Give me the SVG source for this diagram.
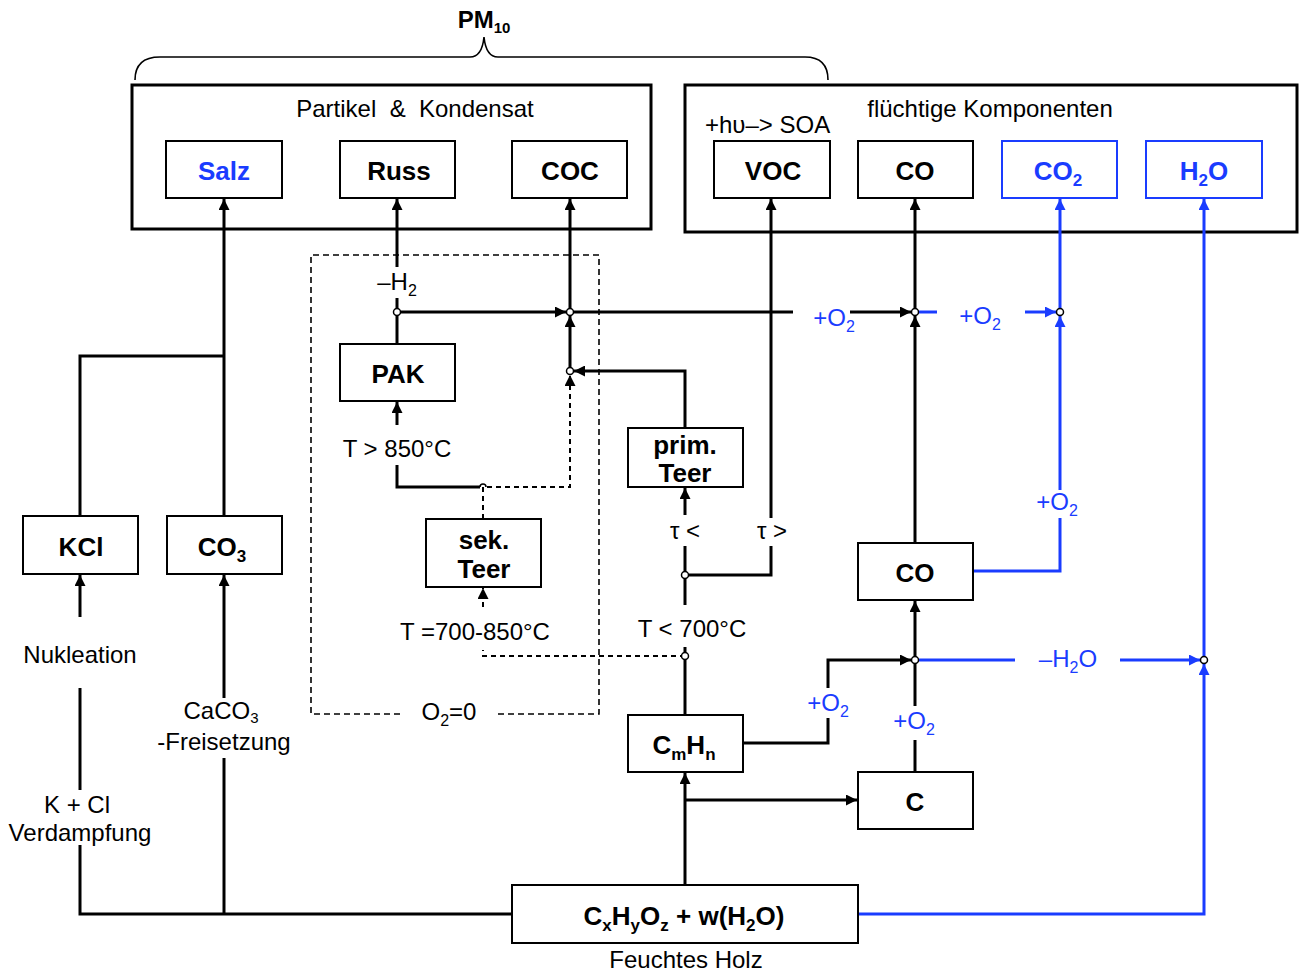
<svg xmlns="http://www.w3.org/2000/svg" width="1300" height="975" viewBox="0 0 1300 975">
<style>
text{font-family:"Liberation Sans",Arial,sans-serif;fill:#000}
.bx{fill:#fff;stroke:#000;stroke-width:2}
.bb{fill:#fff;stroke:#1a3cff;stroke-width:2}
.big{fill:none;stroke:#000;stroke-width:3}
.nl{font-size:26px;font-weight:bold;text-anchor:middle}
.lb{font-size:24px;text-anchor:middle}
.bl{fill:#1a3cff}
.c{fill:none;stroke:#000;stroke-width:3}
.cb{fill:none;stroke:#1a3cff;stroke-width:3}
.d{fill:none;stroke:#000;stroke-width:1.6;stroke-dasharray:6,4}
.dc{fill:none;stroke:#000;stroke-width:2;stroke-dasharray:5,4}
.j{fill:#fff;stroke:#000;stroke-width:1.5}
.s{font-size:16px}
.sb{font-size:17px}
</style>
<defs>
<marker id="a" viewBox="0 0 10 10" refX="10" refY="5" markerWidth="11" markerHeight="11" markerUnits="userSpaceOnUse" orient="auto"><path d="M0,0 L10,5 L0,10 z" fill="#000"/></marker>
<marker id="ab" viewBox="0 0 10 10" refX="10" refY="5" markerWidth="11" markerHeight="11" markerUnits="userSpaceOnUse" orient="auto"><path d="M0,0 L10,5 L0,10 z" fill="#1a3cff"/></marker>
</defs>

<!-- brace and PM10 -->
<g id="pm10">
<path d="M135,80 Q135,57 160,57 L470,57 Q482,57 484,37 Q486,57 498,57 L805,57 Q828,57 828,80" fill="none" stroke="#000" stroke-width="1.6"/>
<text x="484" y="28" font-size="24" font-weight="bold" text-anchor="middle">PM<tspan font-size="15" dy="5">10</tspan></text>
</g>

<!-- outer containers -->
<g id="partikel">
<rect x="132" y="85" width="519" height="144" class="big"/>
<text x="415" y="117" class="lb" xml:space="preserve">Partikel  &amp;  Kondensat</text>
</g>
<g id="fluechtig">
<rect x="685" y="85" width="612" height="147" class="big"/>
<text x="990" y="117" class="lb">flüchtige Komponenten</text>
<text x="705" y="133" font-size="24">+hυ–&gt; SOA</text>
</g>

<!-- dashed pyrolysis region -->
<g id="pyrolyse">
<path d="M400,714 L311,714 L311,255 L599,255 L599,714 L498,714" class="d"/>
<text x="449" y="720" class="lb">O<tspan class="s" dy="6">2</tspan><tspan dy="-6">=0</tspan></text>
</g>

<!-- connectors -->
<g id="connectors">
<!-- left: salts -->
<path d="M512,914 L80,914 L80,845" class="c"/>
<path d="M80,790 L80,688" class="c"/>
<path d="M80,617 L80,575" class="c" marker-end="url(#a)"/>
<path d="M224,914 L224,758" class="c"/>
<path d="M224,698 L224,575" class="c" marker-end="url(#a)"/>
<path d="M224,516 L224,199" class="c" marker-end="url(#a)"/>
<path d="M80,516 L80,356 L224,356" class="c"/>

<!-- Russ / PAK -->
<path d="M397,344 L397,316" class="c"/>
<path d="M397,308.5 L397,298" class="c"/>
<path d="M397,267 L397,199" class="c" marker-end="url(#a)"/>
<path d="M400.5,312 L566,312" class="c" marker-end="url(#a)"/>
<path d="M397,425 L397,402" class="c" marker-end="url(#a)"/>
<path d="M397,465 L397,487 L480,487" class="c"/>
<!-- COC -->
<path d="M570,308.5 L570,199" class="c" marker-end="url(#a)"/>
<path d="M570,367.5 L570,316" class="c" marker-end="url(#a)"/>
<path d="M685,428 L685,371 L574,371" class="c" marker-end="url(#a)"/>
<!-- sek. Teer dashed -->
<path d="M483,519 L483,487 L570,487 L570,375" class="dc" marker-end="url(#a)"/>
<path d="M483,607 L483,588" class="dc" marker-end="url(#a)"/>
<path d="M685,656 L483,656 L483,650" class="dc"/>

<!-- horizontal top line -->
<path d="M573.5,312 L793,312" class="c"/>
<path d="M850,312 L911,312" class="c" marker-end="url(#a)"/>
<path d="M918.5,312 L937,312" class="cb"/>
<path d="M1025,312 L1056,312" class="cb" marker-end="url(#ab)"/>

<!-- VOC -->
<path d="M771,518 L771,199" class="c" marker-end="url(#a)"/>
<path d="M771,546 L771,575 L688.5,575" class="c"/>
<!-- prim. Teer -->
<path d="M685,515 L685,488" class="c" marker-end="url(#a)"/>
<path d="M685,571.5 L685,546" class="c"/>
<path d="M685,605 L685,578.5" class="c"/>
<path d="M685,715 L685,659.5" class="c"/>
<path d="M685,652.5 L685,647" class="c"/>

<!-- CO -->
<path d="M915,308.5 L915,199" class="c" marker-end="url(#a)"/>
<path d="M915,543 L915,316" class="c" marker-end="url(#a)"/>
<path d="M915,656.5 L915,601" class="c" marker-end="url(#a)"/>
<path d="M915,772 L915,740" class="c"/>
<path d="M915,706 L915,663.5" class="c"/>
<path d="M743,743 L828,743 L828,718" class="c"/>
<path d="M828,688 L828,660 L911,660" class="c" marker-end="url(#a)"/>

<!-- CO2 blue -->
<path d="M1060,308.5 L1060,199" class="cb" marker-end="url(#ab)"/>
<path d="M1060,490 L1060,316" class="cb" marker-end="url(#ab)"/>
<path d="M973,571 L1060,571 L1060,518" class="cb"/>

<!-- H2O blue -->
<path d="M918.5,660 L1015,660" class="cb"/>
<path d="M1120,660 L1200,660" class="cb" marker-end="url(#ab)"/>
<path d="M858,914 L1204,914 L1204,664" class="cb" marker-end="url(#ab)"/>
<path d="M1204,656.5 L1204,199" class="cb" marker-end="url(#ab)"/>

<!-- CxHyOz up -->
<path d="M685,885 L685,773" class="c" marker-end="url(#a)"/>
<path d="M685,800 L857,800" class="c" marker-end="url(#a)"/>

<!-- junctions -->
<circle cx="397" cy="312" r="3.5" class="j"/>
<circle cx="570" cy="312" r="3.5" class="j"/>
<circle cx="570" cy="371" r="3.5" class="j"/>
<circle cx="915" cy="312" r="3.5" class="j"/>
<circle cx="1060" cy="312" r="3.5" class="j"/>
<circle cx="685" cy="575" r="3.5" class="j"/>
<circle cx="685" cy="656" r="3.5" class="j"/>
<circle cx="915" cy="660" r="3.5" class="j"/>
<circle cx="1204" cy="660" r="3.5" class="j"/>
<path d="M480,487 A3,3 0 0 1 486,487" fill="none" stroke="#000" stroke-width="1.5"/>

<!-- connector labels -->
<text x="397" y="290" class="lb">–H<tspan class="s" dy="6">2</tspan></text>
<text x="834" y="326" class="lb bl">+O<tspan class="s" dy="6">2</tspan></text>
<text x="980" y="324" class="lb bl">+O<tspan class="s" dy="6">2</tspan></text>
<text x="1057" y="510" class="lb bl">+O<tspan class="s" dy="6">2</tspan></text>
<text x="828" y="711" class="lb bl">+O<tspan class="s" dy="6">2</tspan></text>
<text x="914" y="729" class="lb bl">+O<tspan class="s" dy="6">2</tspan></text>
<text x="1068" y="667" class="lb bl">–H<tspan class="s" dy="6">2</tspan><tspan dy="-6">O</tspan></text>
<text x="397" y="457" class="lb">T &gt; 850°C</text>
<text x="685" y="539" class="lb">τ &lt;</text>
<text x="772" y="539" class="lb">τ &gt;</text>
<text x="475" y="640" class="lb">T =700-850°C</text>
<text x="692" y="637" class="lb">T &lt; 700°C</text>
<text x="80" y="663" class="lb">Nukleation</text>
<text x="221" y="719" class="lb">CaCO<tspan font-size="15" dy="4">3</tspan></text>
<text x="224" y="750" class="lb">-Freisetzung</text>
<text x="77" y="813" class="lb">K + Cl</text>
<text x="80" y="841" class="lb">Verdampfung</text>
<text x="686" y="968" class="lb">Feuchtes Holz</text>
</g>

<!-- nodes -->
<g id="salz"><rect x="166" y="141" width="116" height="57" class="bx"/><text x="224" y="180" class="nl bl">Salz</text></g>
<g id="russ"><rect x="340" y="141" width="115" height="57" class="bx"/><text x="399" y="180" class="nl">Russ</text></g>
<g id="coc"><rect x="512" y="141" width="115" height="57" class="bx"/><text x="570" y="180" class="nl">COC</text></g>
<g id="voc"><rect x="714" y="141" width="116" height="57" class="bx"/><text x="773" y="180" class="nl">VOC</text></g>
<g id="co-top"><rect x="858" y="141" width="115" height="57" class="bx"/><text x="915" y="180" class="nl">CO</text></g>
<g id="co2"><rect x="1002" y="141" width="115" height="57" class="bb"/><text x="1058" y="180" class="nl bl">CO<tspan class="sb" dy="6">2</tspan></text></g>
<g id="h2o"><rect x="1146" y="141" width="116" height="57" class="bb"/><text x="1204" y="180" class="nl bl">H<tspan class="sb" dy="6">2</tspan><tspan dy="-6">O</tspan></text></g>
<g id="pak"><rect x="340" y="344" width="115" height="57" class="bx"/><text x="398" y="383" class="nl">PAK</text></g>
<g id="prim-teer"><rect x="628" y="428" width="115" height="59" class="bx"/><text x="685" y="454" class="nl">prim.</text><text x="685" y="482" class="nl">Teer</text></g>
<g id="sek-teer"><rect x="426" y="519" width="115" height="68" class="bx"/><text x="484" y="549" class="nl">sek.</text><text x="484" y="578" class="nl">Teer</text></g>
<g id="kcl"><rect x="23" y="516" width="115" height="58" class="bx"/><text x="81" y="556" class="nl">KCl</text></g>
<g id="co3"><rect x="167" y="516" width="115" height="58" class="bx"/><text x="222" y="556" class="nl">CO<tspan class="sb" dy="6">3</tspan></text></g>
<g id="co-mid"><rect x="858" y="543" width="115" height="57" class="bx"/><text x="915" y="582" class="nl">CO</text></g>
<g id="cmhn"><rect x="628" y="715" width="115" height="57" class="bx"/><text x="684" y="754" class="nl">C<tspan class="sb" dy="6">m</tspan><tspan dy="-6">H</tspan><tspan class="sb" dy="6">n</tspan></text></g>
<g id="c"><rect x="858" y="772" width="115" height="57" class="bx"/><text x="915" y="811" class="nl">C</text></g>
<g id="holz"><rect x="512" y="885" width="346" height="58" class="bx"/><text x="684" y="925" class="nl">C<tspan class="sb" dy="6">x</tspan><tspan dy="-6">H</tspan><tspan class="sb" dy="6">y</tspan><tspan dy="-6">O</tspan><tspan class="sb" dy="6">z</tspan><tspan dy="-6"> + w(H</tspan><tspan class="sb" dy="6">2</tspan><tspan dy="-6">O)</tspan></text></g>
</svg>
